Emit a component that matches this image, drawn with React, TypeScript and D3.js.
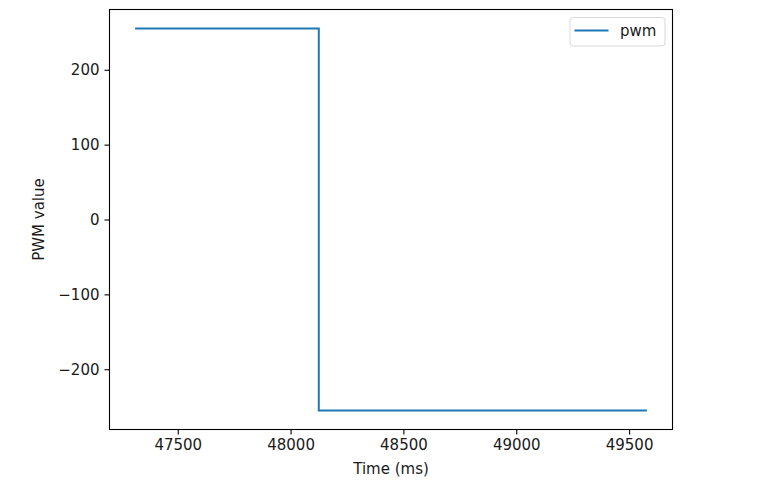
import { useEffect, useRef } from 'react';
import * as d3 from 'd3';

// Time (ms) of each sample and its PWM value
const timeMs = [47311, 48125, 48125, 49579];
const pwmValues = [255, 255, -255, -255];
const xTicks = [47500, 48000, 48500, 49000, 49500];
const yTicks = [-200, -100, 0, 100, 200];
const seriesName = 'pwm';

const App = () => {
  const chartRef = useRef<SVGSVGElement>(null);

  useEffect(() => {
    if (!chartRef.current) return;
    d3.select(chartRef.current).selectAll('*').remove();

    const width = 776;
    const height = 503;
    const margin = { top: 9.5, right: 103.5, bottom: 73.5, left: 109.5 };
    const font = 'DejaVu Sans, sans-serif';
    const fontSize = '15px';
    const color = '#1f77b4';

    const svg = d3.select(chartRef.current)
      .attr('width', width)
      .attr('height', height);

    // matplotlib style 5% padding around data
    const xExt = d3.extent(timeMs) as [number, number];
    const yExt = d3.extent(pwmValues) as [number, number];
    const xPad = (xExt[1] - xExt[0]) * 0.05;
    const yPad = (yExt[1] - yExt[0]) * 0.05;

    const x = d3.scaleLinear()
      .domain([xExt[0] - xPad, xExt[1] + xPad])
      .range([margin.left, width - margin.right]);
    const y = d3.scaleLinear()
      .domain([yExt[0] - yPad, yExt[1] + yPad])
      .range([height - margin.bottom, margin.top]);

    const points = timeMs.map((t, i) => [t, pwmValues[i]] as [number, number]);
    const line = d3.line<[number, number]>()
      .x(d => x(d[0]))
      .y(d => y(d[1]));

    svg.append('path')
      .datum(points)
      .attr('d', line)
      .attr('fill', 'none')
      .attr('stroke', color)
      .attr('stroke-width', 2);

    // Axes
    const xAxis = svg.append('g')
      .attr('transform', `translate(0, ${height - margin.bottom})`)
      .call(d3.axisBottom(x).tickValues(xTicks).tickFormat(d3.format('d')).tickSize(5).tickPadding(5));
    const yAxis = svg.append('g')
      .attr('transform', `translate(${margin.left}, 0)`)
      .call(d3.axisLeft(y).tickValues(yTicks)
        .tickFormat(d => (+d < 0 ? '\u2212' + Math.abs(+d) : String(d)))
        .tickSize(5).tickPadding(5));

    [xAxis, yAxis].forEach(g => {
      g.select('.domain').remove();
      g.selectAll('line').attr('stroke', '#000').attr('stroke-width', 1.1);
      g.selectAll('text')
        .attr('fill', '#1a1a1a')
        .style('font-family', font)
        .style('font-size', fontSize);
    });

    // Frame
    svg.append('rect')
      .attr('x', margin.left)
      .attr('y', margin.top)
      .attr('width', width - margin.left - margin.right)
      .attr('height', height - margin.top - margin.bottom)
      .attr('fill', 'none')
      .attr('stroke', '#000')
      .attr('stroke-width', 1.1);

    // Axis labels
    svg.append('text')
      .attr('x', (margin.left + width - margin.right) / 2)
      .attr('y', 474)
      .attr('text-anchor', 'middle')
      .attr('fill', '#1a1a1a')
      .style('font-family', font)
      .style('font-size', fontSize)
      .text('Time (ms)');
    svg.append('text')
      .attr('transform', `translate(44, ${(margin.top + height - margin.bottom) / 2}) rotate(-90)`)
      .attr('text-anchor', 'middle')
      .attr('fill', '#1a1a1a')
      .style('font-family', font)
      .style('font-size', fontSize)
      .text('PWM value');

    // Legend
    const legend = svg.append('g');
    legend.append('rect')
      .attr('x', 570)
      .attr('y', 17.5)
      .attr('width', 95)
      .attr('height', 28.5)
      .attr('rx', 3)
      .attr('fill', '#fff')
      .attr('fill-opacity', 0.8)
      .attr('stroke', '#d9d9d9')
      .attr('stroke-width', 1);
    legend.append('line')
      .attr('x1', 574.5)
      .attr('x2', 608.5)
      .attr('y1', 30.5)
      .attr('y2', 30.5)
      .attr('stroke', color)
      .attr('stroke-width', 2);
    legend.append('text')
      .attr('x', 620)
      .attr('y', 36)
      .attr('fill', '#1a1a1a')
      .style('font-family', font)
      .style('font-size', fontSize)
      .text(seriesName);
  }, []);

  return (
    <div style={{ position: 'absolute', left: 0, top: 0, width: 776, height: 503, background: '#fff' }}>
      <svg ref={chartRef} style={{ display: 'block' }} />
    </div>
  );
};

export default App;
